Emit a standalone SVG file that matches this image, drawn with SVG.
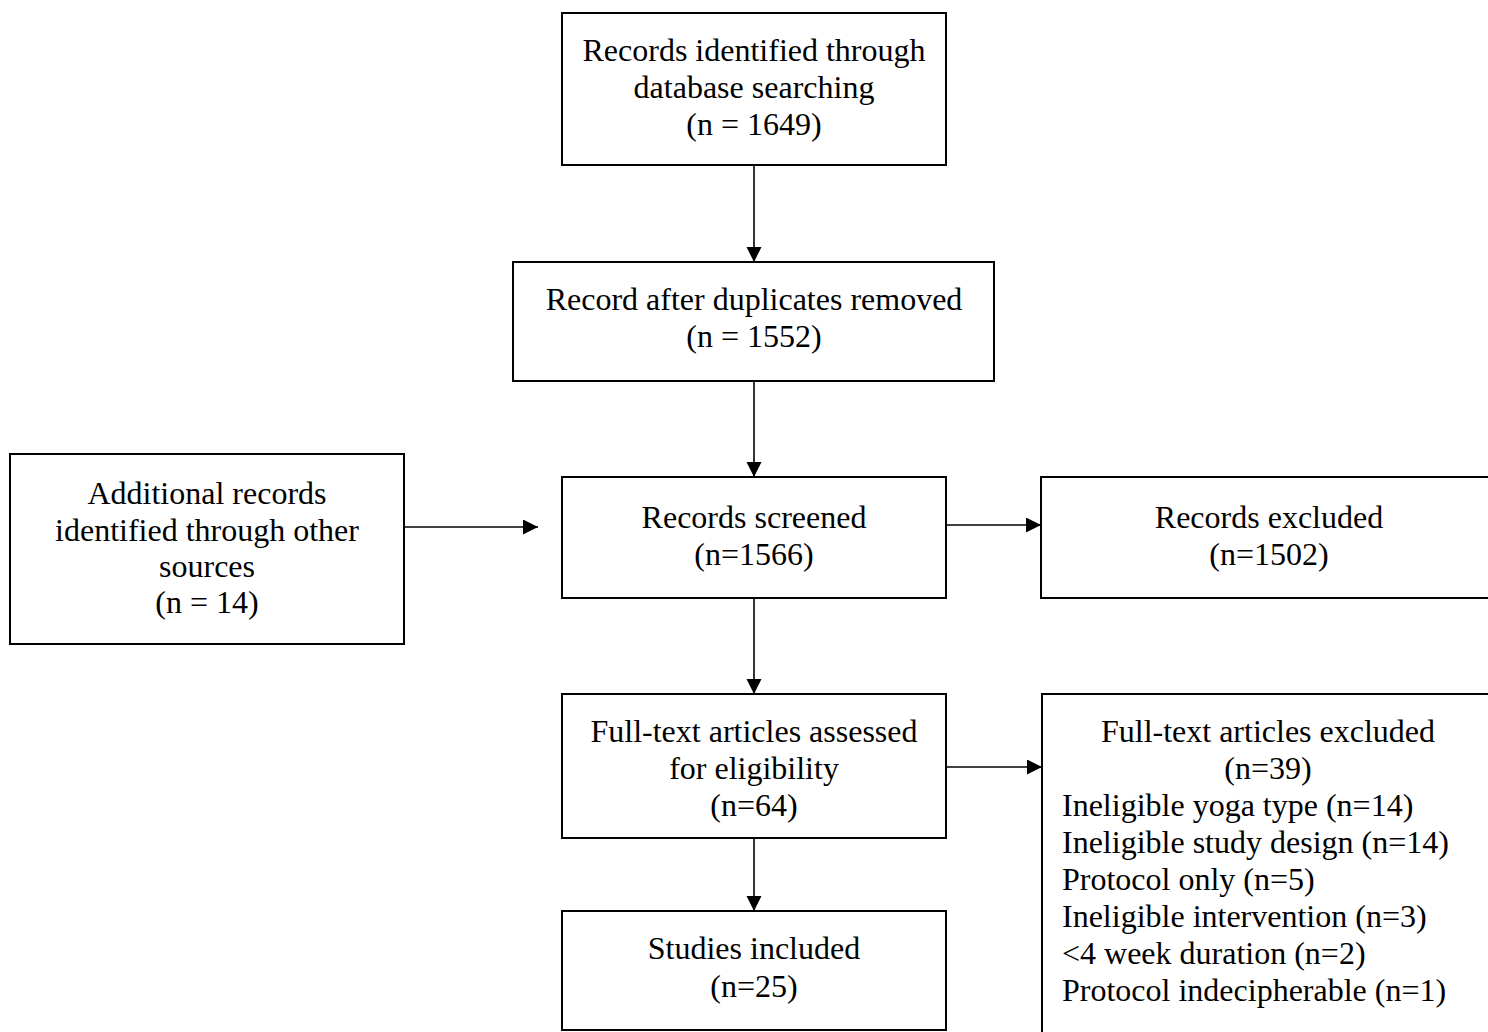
<svg xmlns="http://www.w3.org/2000/svg" width="1488" height="1032" viewBox="0 0 1488 1032">
<defs>
<marker id="ah" markerUnits="userSpaceOnUse" markerWidth="16" markerHeight="16" refX="15" refY="7.5" orient="auto">
<path d="M0,0 L15,7.5 L0,15 Z" fill="#000"/>
</marker>
<style>
.box{fill:#fff;stroke:#000;stroke-width:2}
.t{font-family:"Liberation Serif","Times New Roman",serif;font-size:32px;fill:#000}
.c{text-anchor:middle}
.con{stroke:#000;stroke-width:1.6;fill:none;marker-end:url(#ah)}
</style>
</defs>
<rect width="1488" height="1032" fill="#fff"/>
<g id="connectors">
<line class="con" x1="754" y1="165" x2="754" y2="262"/>
<line class="con" x1="754" y1="381" x2="754" y2="477"/>
<line class="con" x1="404" y1="527" x2="538" y2="527"/>
<line class="con" x1="946" y1="525" x2="1041" y2="525"/>
<line class="con" x1="754" y1="598" x2="754" y2="694"/>
<line class="con" x1="946" y1="767" x2="1042" y2="767"/>
<line class="con" x1="754" y1="838" x2="754" y2="911"/>
</g>
<g id="n1">
<rect class="box" x="562" y="13" width="384" height="152"/>
<text class="t c" x="754" y="61">Records identified through</text>
<text class="t c" x="754" y="98">database searching</text>
<text class="t c" x="754" y="135">(n = 1649)</text>
</g>
<g id="n2">
<rect class="box" x="513" y="262" width="481" height="119"/>
<text class="t c" x="754" y="310">Record after duplicates removed</text>
<text class="t c" x="754" y="347">(n = 1552)</text>
</g>
<g id="n3">
<rect class="box" x="10" y="454" width="394" height="190"/>
<text class="t c" x="207" y="504">Additional records</text>
<text class="t c" x="207" y="541">identified through other</text>
<text class="t c" x="207" y="577">sources</text>
<text class="t c" x="207" y="613">(n = 14)</text>
</g>
<g id="n4">
<rect class="box" x="562" y="477" width="384" height="121"/>
<text class="t c" x="754" y="528">Records screened</text>
<text class="t c" x="754" y="565">(n=1566)</text>
</g>
<g id="n5">
<rect class="box" x="1041" y="477" width="470" height="121"/>
<text class="t c" x="1269" y="528">Records excluded</text>
<text class="t c" x="1269" y="565">(n=1502)</text>
</g>
<g id="n6">
<rect class="box" x="562" y="694" width="384" height="144"/>
<text class="t c" x="754" y="742">Full-text articles assessed</text>
<text class="t c" x="754" y="779">for eligibility</text>
<text class="t c" x="754" y="816">(n=64)</text>
</g>
<g id="n7">
<rect class="box" x="562" y="911" width="384" height="119"/>
<text class="t c" x="754" y="959">Studies included</text>
<text class="t c" x="754" y="997">(n=25)</text>
</g>
<g id="n8">
<rect class="box" x="1042" y="694" width="470" height="360"/>
<text class="t c" x="1268" y="742">Full-text articles excluded</text>
<text class="t c" x="1268" y="779">(n=39)</text>
<text class="t" x="1062" y="816">Ineligible yoga type (n=14)</text>
<text class="t" x="1062" y="853">Ineligible study design (n=14)</text>
<text class="t" x="1062" y="890">Protocol only (n=5)</text>
<text class="t" x="1062" y="927">Ineligible intervention (n=3)</text>
<text class="t" x="1062" y="964">&lt;4 week duration (n=2)</text>
<text class="t" x="1062" y="1001">Protocol indecipherable (n=1)</text>
</g>
</svg>
